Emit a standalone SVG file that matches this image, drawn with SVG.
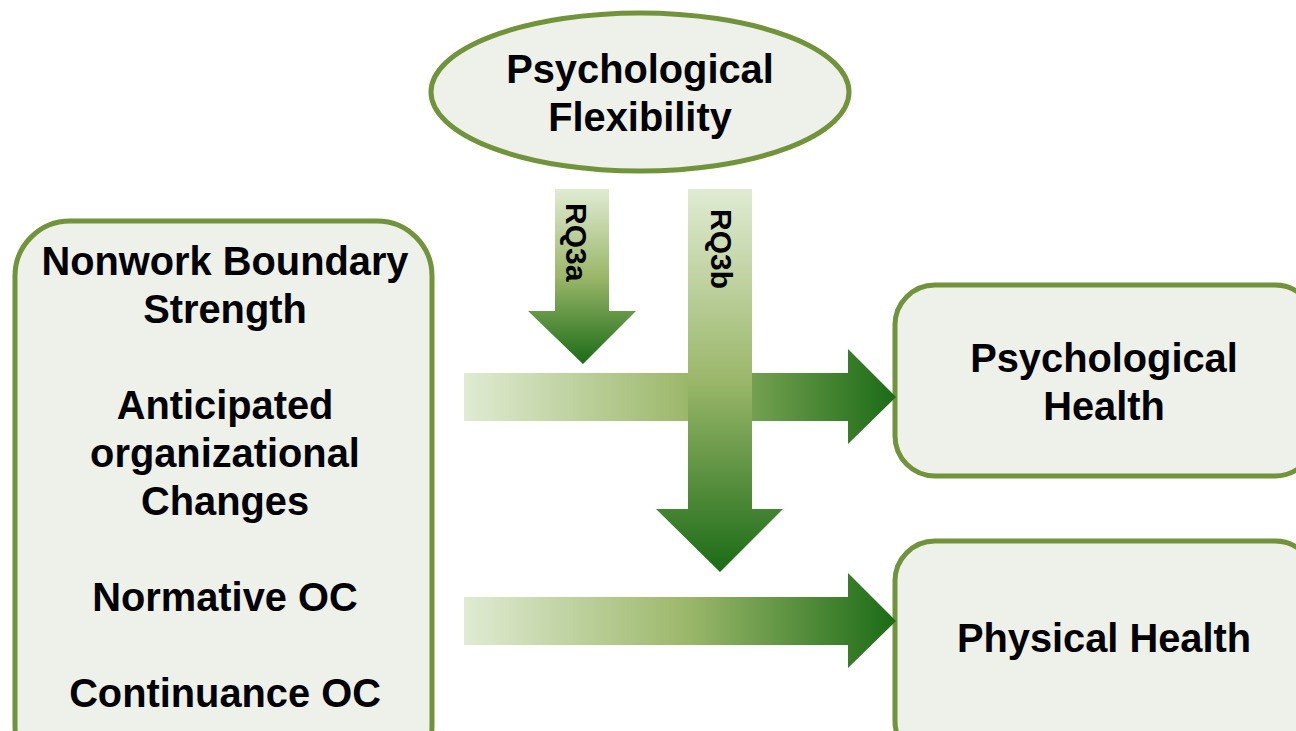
<svg xmlns="http://www.w3.org/2000/svg" width="1296" height="731" viewBox="0 0 1296 731">
<style>
.node{fill:#eef1ea;stroke:#71933b;stroke-width:5}
.t{font-family:"Liberation Sans",Arial,sans-serif;font-weight:bold;font-size:39.8px;fill:#000;text-anchor:middle}
.rq{font-family:"Liberation Sans",Arial,sans-serif;font-weight:bold;font-size:30px;fill:#000}
</style>
<defs>
<linearGradient id="gh" x1="0" y1="0" x2="1" y2="0">
<stop offset="0" stop-color="#e0ebd3"/>
<stop offset="0.52" stop-color="#9bb76a"/>
<stop offset="1" stop-color="#1b6b16"/>
</linearGradient>
<linearGradient id="gv" x1="0" y1="0" x2="0" y2="1">
<stop offset="0" stop-color="#e0ebd3"/>
<stop offset="0.5" stop-color="#9bb76a"/>
<stop offset="1" stop-color="#1b6b16"/>
</linearGradient>
</defs>
<rect width="1296" height="731" fill="#fff"/>
<g id="flexibility">
<ellipse class="node" cx="640" cy="92" rx="209" ry="79"/>
<text class="t" x="640" y="83">Psychological</text>
<text class="t" x="640" y="131">Flexibility</text>
</g>
<g id="predictors">
<rect class="node" x="15" y="221" width="417" height="560" rx="55"/>
<text class="t" x="225" y="275">Nonwork Boundary</text>
<text class="t" x="225" y="323">Strength</text>
<text class="t" x="225" y="419">Anticipated</text>
<text class="t" x="225" y="467">organizational</text>
<text class="t" x="225" y="515">Changes</text>
<text class="t" x="225" y="611">Normative OC</text>
<text class="t" x="225" y="707">Continuance OC</text>
</g>
<g id="psych-health">
<rect class="node" x="895" y="285" width="420" height="191" rx="40"/>
<text class="t" x="1104" y="372">Psychological</text>
<text class="t" x="1104" y="420">Health</text>
</g>
<g id="phys-health">
<rect class="node" x="895" y="541" width="420" height="220" rx="40"/>
<text class="t" x="1104" y="652">Physical Health</text>
</g>
<g id="connectors">
<polygon fill="url(#gh)" points="464,373 848,373 848,349 896,397 848,444 848,421 464,421"/>
<polygon fill="url(#gh)" points="464,597 848,597 848,573 896,621 848,668 848,645 464,645"/>
<polygon fill="url(#gv)" points="555,189 609,189 609,311 636,311 583,364 528,311 555,311"/>
<polygon fill="url(#gv)" points="688,189 752,189 752,509 783,509 720,572 656,509 688,509"/>
<text class="rq" transform="translate(566,203) rotate(90)">RQ3a</text>
<text class="rq" transform="translate(711,209) rotate(90)">RQ3b</text>
</g>
</svg>
